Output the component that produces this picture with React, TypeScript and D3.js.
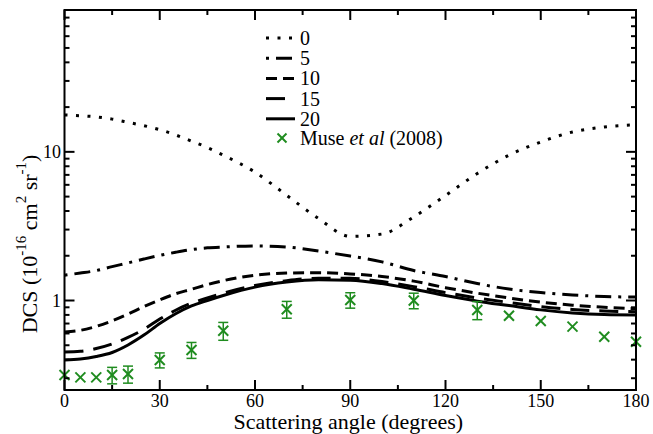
import React from "react";
import * as d3 from "d3";

// Scattering angles (degrees) at which the model curves are tabulated
const angles = [0, 5, 10, 15, 20, 25, 30, 35, 40, 45, 50, 60, 70, 80, 90, 100, 110, 120, 130, 140, 150, 160, 170, 180];

// Model DCS curves (10^-16 cm^2 sr^-1), one array per parameter value
const dcs0 = [17.7, 17.5, 17.2, 16.6, 15.8, 15.0, 14.1, 13.0, 11.8, 10.7, 9.5, 7.3, 5.1, 3.56, 2.7, 2.8, 3.65, 5.09, 7.15, 9.5, 11.65, 13.6, 14.7, 15.2];
const dcs5 = [1.48, 1.53, 1.59, 1.69, 1.79, 1.9, 2.01, 2.11, 2.2, 2.26, 2.29, 2.33, 2.29, 2.15, 1.99, 1.82, 1.59, 1.45, 1.3, 1.195, 1.13, 1.09, 1.064, 1.055];
const dcs10 = [0.614, 0.63, 0.67, 0.73, 0.81, 0.91, 1.01, 1.11, 1.19, 1.28, 1.36, 1.48, 1.53, 1.54, 1.51, 1.45, 1.35, 1.22, 1.12, 1.04, 0.975, 0.93, 0.9, 0.88];
const dcs15 = [0.45, 0.455, 0.475, 0.51, 0.565, 0.64, 0.75, 0.86, 0.96, 1.04, 1.12, 1.26, 1.36, 1.41, 1.41, 1.34, 1.24, 1.13, 1.04, 0.97, 0.91, 0.87, 0.85, 0.84];
const dcs20 = [0.398, 0.404, 0.42, 0.447, 0.502, 0.585, 0.7, 0.815, 0.92, 1.0, 1.08, 1.23, 1.33, 1.38, 1.37, 1.3, 1.19, 1.08, 0.99, 0.925, 0.865, 0.825, 0.805, 0.8];

// Measured cross sections, Muse et al (2008)
const expAngles = [0, 5, 10, 15, 20, 30, 40, 50, 70, 90, 110, 130, 140, 150, 160, 170, 180];
const expValues = [0.315, 0.304, 0.304, 0.315, 0.32, 0.398, 0.465, 0.626, 0.873, 1.008, 1.0, 0.863, 0.79, 0.728, 0.667, 0.571, 0.528];
const expErrors = [0, 0, 0, 0.04, 0.042, 0.046, 0.057, 0.086, 0.113, 0.12, 0.12, 0.12, 0, 0, 0, 0, 0];

const seriesLabels = ["0", "5", "10", "15", "20"];
const xTicks = [0, 30, 60, 90, 120, 150, 180];
const xMinorTicks = [15, 45, 75, 105, 135, 165];
const yTickLabels = ["1", "10"];

const W = 653;
const H = 434;
const left = 64.5;
const right = 636;
const top = 10;
const bottom = 390;

const green = "#1f8c1f";
const font = "Liberation Serif";

const styles = [
  { dash: "3 8.5", width: 3 },
  { dash: "3 7 16 7", width: 3 },
  { dash: "11 6", width: 3 },
  { dash: "19 10", width: 3 },
  { dash: undefined as string | undefined, width: 3 },
];

export default function App() {
  const x = d3.scaleLinear().domain([0, 180]).range([left, right]);
  const y = d3.scaleLog().domain([0.25, 90]).range([bottom, top]);

  const series = [dcs0, dcs5, dcs10, dcs15, dcs20];
  const line = d3
    .line<number>()
    .x((_, i) => x(angles[i]))
    .y((v) => y(v))
    .curve(d3.curveMonotoneX);

  // log-axis minor ticks: 2..9 of each decade inside the domain
  const yMinor: number[] = [];
  for (const dec of [0.1, 1, 10]) {
    for (let k = 2; k <= 9; k++) {
      const v = dec * k;
      if (v >= 0.25 && v <= 90) yMinor.push(v);
    }
  }
  const yMajor = [1, 10];

  const legendX0 = 266;
  const legendX1 = 295;
  const legendTextX = 300;
  const legendY0 = 38;
  const legendDy = 20.2;

  const cross = (cx: number, cy: number, r: number, key: string) => (
    <g key={key} stroke={green} strokeWidth={2}>
      <line x1={cx - r} y1={cy - r} x2={cx + r} y2={cy + r} />
      <line x1={cx - r} y1={cy + r} x2={cx + r} y2={cy - r} />
    </g>
  );

  const txt = { fontFamily: font };

  return (
    <svg
      width={W}
      height={H}
      viewBox={`0 0 ${W} ${H}`}
      style={{ position: "absolute", left: 0, top: 0, background: "#fff", fontFamily: font }}
    >
      <rect width={W} height={H} fill="#fff" />

      {/* model curves */}
      <g fill="none" stroke="#000">
        {series.map((s, i) => (
          <path
            key={seriesLabels[i]}
            d={line(s) ?? ""}
            strokeWidth={styles[i].width}
            strokeDasharray={styles[i].dash}
          />
        ))}
      </g>

      {/* measurements with error bars */}
      <g>
        {expAngles.map((a, i) => {
          const cx = x(a);
          const cy = y(expValues[i]);
          const e = expErrors[i];
          return (
            <g key={`e${a}`}>
              {e > 0 && (
                <g stroke={green} strokeWidth={1.5}>
                  <line x1={cx} x2={cx} y1={y(expValues[i] + e)} y2={y(expValues[i] - e)} />
                  <line x1={cx - 5} x2={cx + 5} y1={y(expValues[i] + e)} y2={y(expValues[i] + e)} />
                  <line x1={cx - 5} x2={cx + 5} y1={y(expValues[i] - e)} y2={y(expValues[i] - e)} />
                </g>
              )}
              {cross(cx, cy, 5, `c${a}`)}
            </g>
          );
        })}
      </g>

      {/* frame */}
      <rect x={left} y={top} width={right - left} height={bottom - top} fill="none" stroke="#000" strokeWidth={2} />

      {/* ticks on all four sides, pointing inward */}
      <g stroke="#000" strokeWidth={2}>
        {xTicks.map((t) => (
          <g key={`xt${t}`}>
            <line x1={x(t)} x2={x(t)} y1={bottom} y2={bottom - 10} />
            <line x1={x(t)} x2={x(t)} y1={top} y2={top + 10} />
          </g>
        ))}
        {xMinorTicks.map((t) => (
          <g key={`xm${t}`}>
            <line x1={x(t)} x2={x(t)} y1={bottom} y2={bottom - 5} />
            <line x1={x(t)} x2={x(t)} y1={top} y2={top + 5} />
          </g>
        ))}
        {yMajor.map((t) => (
          <g key={`yt${t}`}>
            <line x1={left} x2={left + 10} y1={y(t)} y2={y(t)} />
            <line x1={right} x2={right - 10} y1={y(t)} y2={y(t)} />
          </g>
        ))}
        {yMinor.map((t) => (
          <g key={`ym${t}`}>
            <line x1={left} x2={left + 5} y1={y(t)} y2={y(t)} />
            <line x1={right} x2={right - 5} y1={y(t)} y2={y(t)} />
          </g>
        ))}
      </g>

      {/* tick labels */}
      <g fontSize={18} fill="#000">
        {xTicks.map((t) => (
          <text key={`xl${t}`} style={txt} x={x(t)} y={407} textAnchor="middle">
            {t}
          </text>
        ))}
        {yMajor.map((t, i) => (
          <text key={`yl${t}`} style={txt} x={61} y={y(t) + 6} textAnchor="end">
            {yTickLabels[i]}
          </text>
        ))}
      </g>

      {/* axis titles */}
      <text style={txt} x={(left + right) / 2 - 2} y={429} textAnchor="middle" fontSize={22}>
        Scattering angle (degrees)
      </text>
      <text style={txt} transform={`translate(37, ${244}) rotate(-90)`} textAnchor="middle" fontSize={22}>
        DCS (10
        <tspan fontSize={15} dy={-11}>-16</tspan>
        <tspan dy={11}> cm</tspan>
        <tspan fontSize={15} dy={-11}>2</tspan>
        <tspan dy={11}> sr</tspan>
        <tspan fontSize={15} dy={-11}>-1</tspan>
        <tspan dy={11}>)</tspan>
      </text>

      {/* legend */}
      <g fontSize={20}>
        {seriesLabels.map((lab, i) => {
          const ly = legendY0 + i * legendDy;
          return (
            <g key={`lg${lab}`}>
              <line
                x1={legendX0}
                x2={legendX1}
                y1={ly}
                y2={ly}
                stroke="#000"
                strokeWidth={styles[i].width}
                strokeDasharray={styles[i].dash}
              />
              <text style={txt} x={legendTextX} y={ly + 7}>
                {lab}
              </text>
            </g>
          );
        })}
        {cross(282, legendY0 + 5 * legendDy - 1, 4.5, "lgx")}
        <text style={txt} x={legendTextX} y={legendY0 + 5 * legendDy + 6}>
          Muse <tspan fontStyle="italic">et al</tspan> (2008)
        </text>
      </g>
    </svg>
  );
}
